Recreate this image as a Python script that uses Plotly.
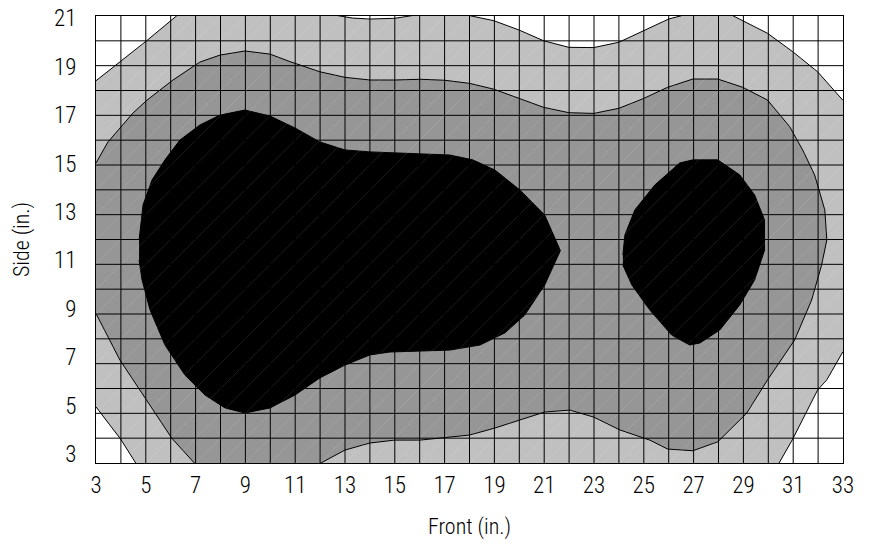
import plotly.graph_objects as go

# ---------------- data ----------------
x_ticks = list(range(3, 34, 2))
y_ticks = list(range(3, 22, 2))
x_range = [3, 33]
y_range = [2.624, 21.095]
n_cells_x = 30
n_cells_y = 18

# Level boundaries (contour outlines) in inches
white_tl_x = [3.0, 3.96, 4.97, 6.25, 6.4, 2.8, 2.8]
white_tl_y = [18.42, 19.19, 20.02, 21.11, 21.4, 21.4, 18.42]

white_lens_x = [12.71, 13.3, 14.0, 15.0, 15.69, 15.8, 12.6]
white_lens_y = [21.11, 21.01, 20.97, 21.0, 21.11, 21.4, 21.4]

white_dip_x = [18.01, 18.98, 19.98, 20.98, 21.99, 22.99, 24.0, 25.0, 26.0, 26.52, 26.6, 17.9]
white_dip_y = [21.11, 20.90, 20.52, 20.07, 19.80, 19.79, 20.01, 20.49, 20.97, 21.11, 21.4, 21.4]

white_tr_x = [28.57, 29.97, 30.98, 31.98, 32.99, 33.3, 33.3, 28.5]
white_tr_y = [21.11, 20.38, 19.62, 18.79, 17.62, 17.5, 21.4, 21.4]

white_br_x = [33.3, 32.99, 32.35, 31.98, 30.98, 30.42, 30.35, 33.3]
white_br_y = [7.1, 7.21, 6.06, 5.64, 3.61, 2.6, 2.4, 2.4]

white_bl_x = [2.8, 3.0, 3.99, 4.61, 4.65, 2.8]
white_bl_y = [4.94, 4.94, 3.61, 2.6, 2.4, 2.4]

mid_x = [2.8, 3.0, 3.48, 4.49, 5.05, 6.09, 7.17, 7.98, 8.98, 9.99, 10.79, 11.99, 13.0, 14.0,
         15.0, 16.01, 17.01, 18.01, 18.98, 19.98, 20.98, 21.99, 22.99, 24.0, 25.0, 25.96,
         26.97, 27.97, 28.97, 29.97, 30.86, 31.38, 31.86, 32.27, 32.35, 32.14, 31.74, 31.06,
         29.97, 29.13, 27.97, 26.97, 25.96, 25.24, 24.04, 22.99, 22.03, 21.02, 20.02, 19.02,
         18.01, 17.01, 16.01, 15.0, 14.0, 13.0, 11.99, 11.95, 6.9, 6.97, 6.05, 4.49, 3.96,
         3.03, 2.8]
mid_y = [15.02, 15.02, 15.89, 17.09, 17.62, 18.45, 19.19, 19.48, 19.65, 19.52, 19.21, 18.79,
         18.56, 18.45, 18.45, 18.48, 18.44, 18.31, 18.07, 17.69, 17.32, 17.10, 17.07, 17.28,
         17.69, 18.15, 18.49, 18.49, 18.15, 17.62, 16.52, 15.56, 14.53, 13.08, 11.84, 10.80,
         9.36, 7.71, 6.06, 4.68, 3.50, 3.13, 3.20, 3.57, 3.99, 4.52, 4.81, 4.73, 4.40, 4.07,
         3.78, 3.66, 3.57, 3.57, 3.45, 3.16, 2.6, 2.4, 2.4, 2.6, 3.64, 6.06, 6.88,
         8.74, 8.74]

black_left_x = [4.73, 4.89, 5.25, 5.77, 6.37, 7.17, 7.98, 8.98, 9.99, 10.99, 11.99, 13.0, 14.0,
                15.61, 17.21, 18.13, 19.02, 20.02, 21.02, 21.65, 21.02, 20.22, 19.42, 18.42,
                17.21, 16.01, 14.80, 14.0, 13.0, 11.99, 10.99, 9.99, 8.98, 8.18, 7.38, 6.57,
                5.77, 5.17, 4.85, 4.73]
black_left_y = [11.84, 13.29, 14.32, 15.15, 15.97, 16.59, 17.0, 17.21, 16.96, 16.47, 15.89, 15.56,
                15.48, 15.43, 15.35, 15.15, 14.73, 13.91, 12.87, 11.4, 9.98, 8.74, 8.0, 7.50,
                7.29, 7.25, 7.21, 7.09, 6.67, 6.14, 5.43, 4.90, 4.69, 4.90, 5.43, 6.26,
                7.50, 8.95, 10.19, 11.01]

black_right_x = [24.16, 24.24, 24.64, 25.44, 26.44, 26.97, 27.97, 28.85, 29.45, 29.85, 29.85,
                 29.45, 28.85, 28.05, 27.25, 26.84, 26.12, 25.24, 24.52, 24.16]
black_right_y = [11.22, 12.05, 13.08, 14.11, 15.02, 15.15, 15.15, 14.53, 13.70, 12.67, 11.42,
                 10.19, 9.15, 8.12, 7.58, 7.50, 7.91, 8.95, 9.98, 10.80]

LIGHT = "#c0c0c0"
MID = "#969696"
DARK = "#000000"
FONT = "Roboto Condensed, Liberation Sans Narrow, DejaVu Sans Condensed, sans-serif"

fig = go.Figure()


def region(xs, ys, color):
    fig.add_trace(go.Scatter(
        x=xs, y=ys, mode="lines", fill="toself", fillcolor=color,
        line=dict(color="black", width=1), hoverinfo="skip", showlegend=False))


for xs, ys in [(white_tl_x, white_tl_y), (white_lens_x, white_lens_y),
               (white_dip_x, white_dip_y), (white_tr_x, white_tr_y),
               (white_br_x, white_br_y), (white_bl_x, white_bl_y)]:
    region(xs, ys, "white")
region(mid_x, mid_y, MID)
region(black_left_x, black_left_y, DARK)
region(black_right_x, black_right_y, DARK)

shapes = []
# faint diagonal seams in every cell
for i in range(n_cells_x):
    for j in range(n_cells_y):
        shapes.append(dict(type="line", xref="x", yref="y domain",
                           x0=x_range[0] + i, x1=x_range[0] + i + 1,
                           y0=j / n_cells_y, y1=(j + 1) / n_cells_y,
                           line=dict(color="rgba(255,255,255,0.16)", width=0.7),
                           layer="above"))
# cell grid
for i in range(1, n_cells_x):
    shapes.append(dict(type="line", xref="x", yref="y domain",
                       x0=x_range[0] + i, x1=x_range[0] + i, y0=0, y1=1,
                       line=dict(color="black", width=1), layer="above"))
for j in range(1, n_cells_y):
    shapes.append(dict(type="line", xref="x domain", yref="y domain",
                       x0=0, x1=1, y0=j / n_cells_y, y1=j / n_cells_y,
                       line=dict(color="black", width=1), layer="above"))

fig.update_layout(
    width=869, height=544,
    margin=dict(l=96, r=26, t=16, b=81, autoexpand=False),
    paper_bgcolor="white", plot_bgcolor=LIGHT,
    font=dict(family=FONT, size=23, color="black", weight=300),
    shapes=shapes,
    xaxis=dict(range=x_range, tickvals=x_ticks, ticktext=[str(v) for v in x_ticks],
               showgrid=False, zeroline=False, showline=True, mirror=True,
               linecolor="black", linewidth=1, ticks="outside", ticklen=1,
               tickcolor="rgba(0,0,0,0)", tickfont=dict(size=23, weight=300), automargin=False,
               title=dict(text="Front (in.)", font=dict(size=22, weight=300), standoff=21)),
    yaxis=dict(range=y_range, tickvals=y_ticks, ticktext=[str(v) for v in y_ticks],
               showgrid=False, zeroline=False, showline=True, mirror=True,
               linecolor="black", linewidth=1, ticks="outside", ticklen=14,
               tickcolor="rgba(0,0,0,0)", tickfont=dict(size=23, weight=300), automargin=False,
               title=dict(text="Side (in.)", font=dict(size=22, weight=300), standoff=18)),
)

fig.write_html("out.html", config={"displayModeBar": False},
               post_script="document.body.style.margin='0';")
